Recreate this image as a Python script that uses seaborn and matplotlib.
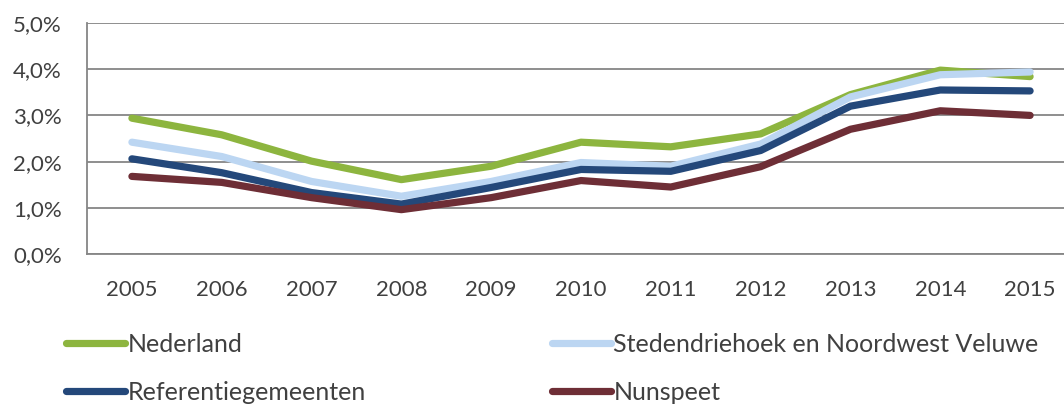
import numpy as np
import pandas as pd
import seaborn as sns
import matplotlib.pyplot as plt
from matplotlib.ticker import FuncFormatter, MultipleLocator

years = [2005, 2006, 2007, 2008, 2009, 2010, 2011, 2012, 2013, 2014, 2015]
nederland = [2.94, 2.58, 2.01, 1.61, 1.90, 2.42, 2.32, 2.60, 3.45, 3.98, 3.84]
stedendriehoek = [2.42, 2.11, 1.57, 1.25, 1.57, 1.98, 1.90, 2.38, 3.40, 3.88, 3.94]
referentie = [2.06, 1.76, 1.33, 1.08, 1.44, 1.83, 1.79, 2.24, 3.20, 3.55, 3.53]
nunspeet = [1.68, 1.55, 1.22, 0.96, 1.22, 1.59, 1.45, 1.89, 2.70, 3.10, 3.00]

# series order as in the original (last one drawn on top)
series_names = ["Nederland", "Stedendriehoek en Noordwest Veluwe",
                "Referentiegemeenten", "Nunspeet"]
series_values = [nederland, stedendriehoek, referentie, nunspeet]
colors = ["#8DB53F", "#BCD6F2", "#24487A", "#6E2E36"]

df = pd.DataFrame({
    "jaar": years * len(series_names),
    "waarde": np.concatenate(series_values),
    "reeks": np.repeat(series_names, len(years)),
})

sns.set_style("white")
plt.rcParams["font.family"] = ["Lato", "DejaVu Sans"]
text_color = "#404040"
axis_color = "#868686"

fig = plt.figure(figsize=(10.64, 4.05), dpi=100)
ax = fig.add_axes([87 / 1064, 1 - 254 / 405, 988 / 1064, 231 / 405])

palette = dict(zip(series_names, colors))
for name in series_names:
    sub = df[df["reeks"] == name]
    sns.lineplot(data=sub, x="jaar", y="waarde", color=palette[name],
                 linewidth=5.2, solid_capstyle="round", solid_joinstyle="round",
                 ax=ax, label=name, legend=False)

ax.set_xlim(2004.5, 2015.5)
ax.set_ylim(0, 5)
ax.yaxis.set_major_locator(MultipleLocator(1))
ax.yaxis.set_major_formatter(FuncFormatter(lambda v, p: f"{v:.1f}%".replace(".", ",")))
ax.set_xticks(years)
ax.set_xticklabels([str(y) for y in years])
ax.set_xticks([y - 0.5 for y in years] + [2015.5], minor=True)
ax.tick_params(axis="x", which="major", length=0, pad=19, labelsize=16, labelcolor=text_color)
ax.tick_params(axis="x", which="minor", length=5, width=1.3, color=axis_color, direction="out")
ax.tick_params(axis="y", length=5, width=1.3, color=axis_color, direction="out",
               pad=13, labelsize=16, labelcolor=text_color)
ax.set_xlabel("")
ax.set_ylabel("")
ax.grid(axis="y", color=axis_color, linewidth=1.3)
ax.grid(axis="x", visible=False)
for side in ["top", "right"]:
    ax.spines[side].set_visible(False)
for side in ["left", "bottom"]:
    ax.spines[side].set_color(axis_color)
    ax.spines[side].set_linewidth(1.3)
ax.set_axisbelow(True)

# legend: two columns placed separately, like the original layout
handles = {l.get_label(): l for l in ax.get_lines()}
legend_cols = [(["Nederland", "Referentiegemeenten"], 66),
               (["Stedendriehoek en Noordwest Veluwe", "Nunspeet"], 552)]
for names, x0 in legend_cols:
    fig.legend([handles[n] for n in names], names,
               loc="upper left", bbox_to_anchor=(x0 / 1064, 1 - 333 / 405),
               frameon=False, fontsize=18, handlelength=2.35,
               handletextpad=0.1, labelspacing=1.0,
               labelcolor=text_color, borderaxespad=0, borderpad=0)

fig.savefig("out.png", dpi=100, facecolor="white")
